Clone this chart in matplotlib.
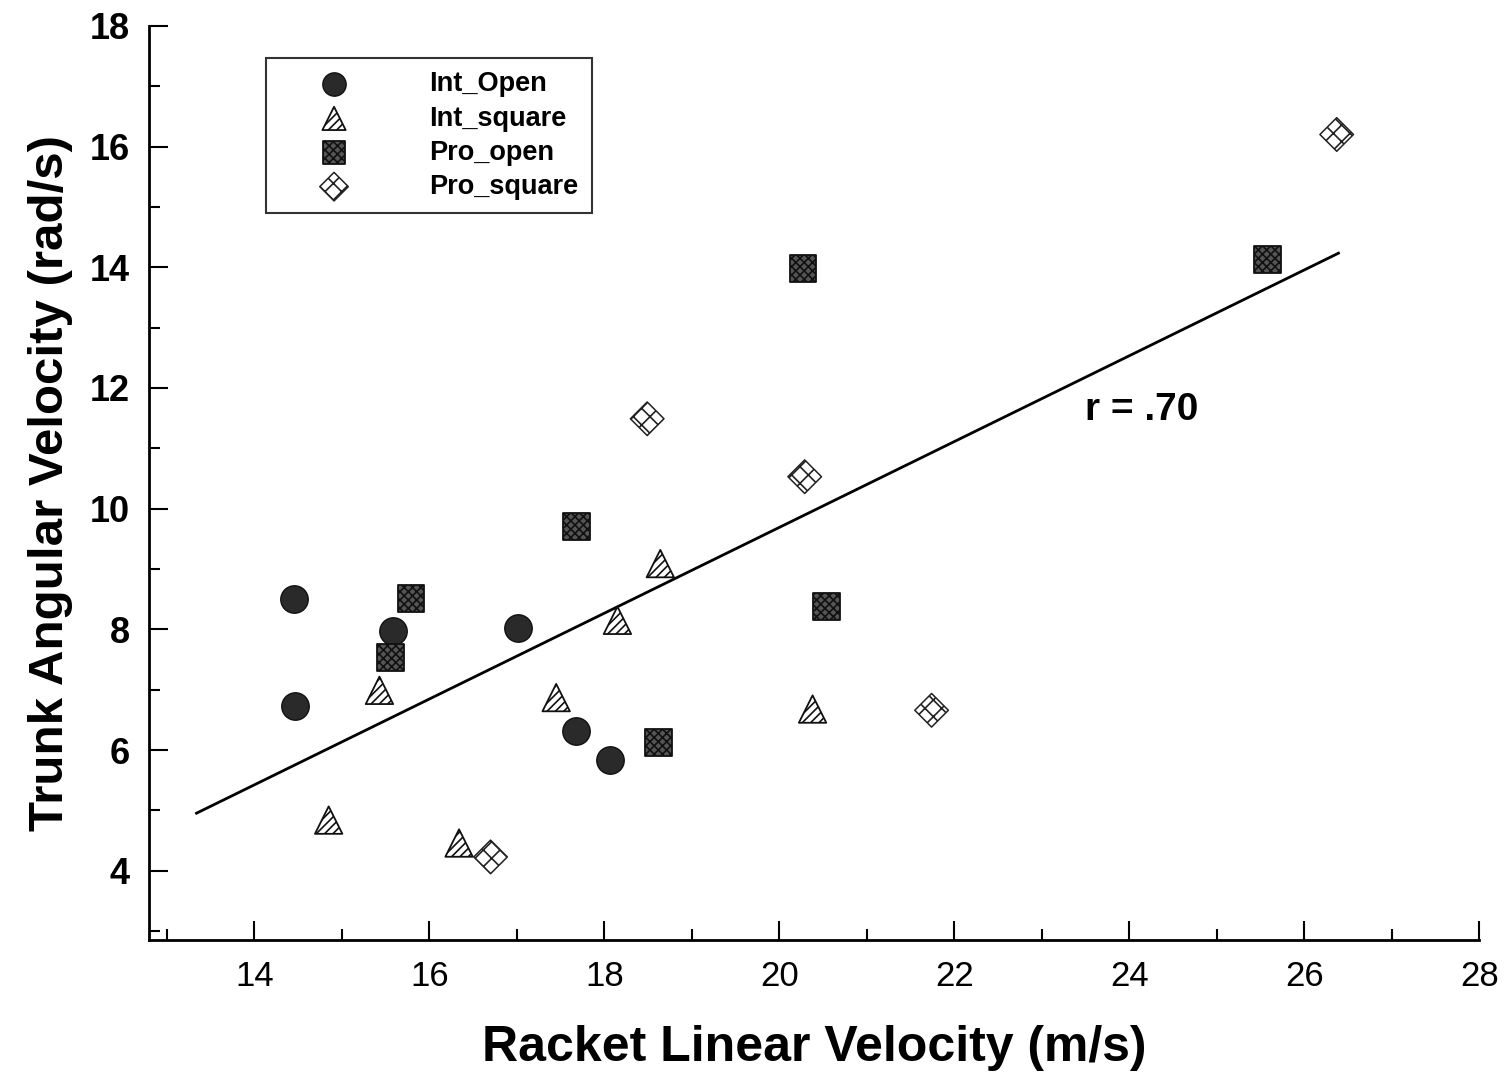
import numpy as np
import matplotlib
matplotlib.use('Agg')
import matplotlib.pyplot as plt
from matplotlib.ticker import MultipleLocator

plt.rcParams['font.family'] = ['Liberation Sans', 'DejaVu Sans']
plt.rcParams['hatch.linewidth'] = 1.2

# data
int_open_x = [14.45, 14.47, 15.59, 17.01, 17.68, 18.07]
int_open_y = [8.51, 6.73, 7.98, 8.02, 6.31, 5.83]

int_square_x = [15.43, 14.85, 16.34, 17.45, 18.15, 18.64, 20.38]
int_square_y = [6.99, 4.84, 4.46, 6.87, 8.15, 9.09, 6.68]

pro_open_x = [15.79, 15.56, 17.68, 18.62, 20.27, 20.54, 25.58]
pro_open_y = [8.51, 7.54, 9.71, 6.13, 13.98, 8.38, 14.13]

pro_square_x = [16.70, 18.49, 20.29, 21.74, 26.37]
pro_square_y = [4.23, 11.49, 10.53, 6.66, 16.20]

# regression line (as drawn)
fit_slope = 0.711
fit_intercept = -4.53
fit_range = [13.34, 26.39]
r_text = 'r = .70'

fig = plt.figure(figsize=(15.08, 10.77), dpi=100)
ax = fig.add_axes([0.099, 0.127, 0.882, 0.849])

s = 390
ax.scatter(int_open_x, int_open_y, s=s, marker='o', facecolor='#2a2a2a',
           edgecolor='#111111', linewidth=1, label='Int_Open', zorder=3)
ax.scatter(int_square_x, int_square_y, s=s * 1.0, marker='^', facecolor='white',
           edgecolor='#111111', hatch='////', linewidth=1.3, label='Int_square', zorder=3)
ax.scatter(pro_open_x, pro_open_y, s=s * 0.95, marker='s', facecolor='#555555',
           edgecolor='#111111', hatch='xxxx', linewidth=1.3, label='Pro_open', zorder=3)
ax.scatter(pro_square_x, pro_square_y, s=s * 0.75, marker='D', facecolor='white',
           edgecolor='#222222', hatch='xx', linewidth=1.1, label='Pro_square', zorder=3)

fx = np.array(fit_range)
ax.plot(fx, fit_slope * fx + fit_intercept, color='black', linewidth=2, zorder=2)
ax.text(24.14, 11.64, r_text, fontsize=28, fontweight='bold', ha='center', va='center')

ax.set_xlim(12.8, 28)
ax.set_ylim(2.85, 18)
ax.xaxis.set_major_locator(MultipleLocator(2))
ax.xaxis.set_minor_locator(MultipleLocator(1))
ax.yaxis.set_major_locator(MultipleLocator(2))
ax.yaxis.set_minor_locator(MultipleLocator(1))
ax.set_yticks([4, 6, 8, 10, 12, 14, 16, 18])
ax.tick_params(which='both', direction='in', width=1.5)
ax.tick_params(which='major', length=14)
ax.tick_params(which='minor', length=8)
ax.tick_params(axis='x', labelsize=25, pad=14)
ax.tick_params(axis='y', labelsize=26, pad=14)
for lab in ax.get_yticklabels():
    lab.set_fontweight('bold')

ax.spines['top'].set_visible(False)
ax.spines['right'].set_visible(False)
ax.spines['left'].set_linewidth(2)
ax.spines['bottom'].set_linewidth(2)

ax.set_xlabel('Racket Linear Velocity (m/s)', fontsize=36, fontweight='bold', labelpad=23)
ax.set_ylabel('Trunk Angular Velocity (rad/s)', fontsize=35.5, fontweight='bold', labelpad=12)

leg = ax.legend(loc='upper left', bbox_to_anchor=(0.088, 0.965), frameon=True,
                fancybox=False, edgecolor='black', borderaxespad=0,
                prop={'weight': 'bold', 'size': 19.5}, handletextpad=1.5,
                borderpad=0.5, labelspacing=0.3, markerscale=0.85, handlelength=4.0)
leg.get_frame().set_linewidth(1.5)

fig.savefig('out.png', dpi=100, facecolor='white')
